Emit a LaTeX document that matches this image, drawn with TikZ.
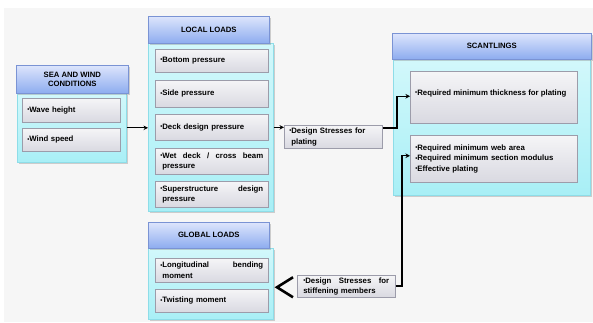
\documentclass[tikz,border=0pt]{standalone}
\usepackage{fontspec}
\setmainfont{Liberation Sans}
\usetikzlibrary{shadows,arrows.meta,calc}
\definecolor{hdrb}{HTML}{7A93D4}
\definecolor{hdrt}{HTML}{DDE5FC}
\definecolor{hdrbot}{HTML}{8DACEF}
\definecolor{cyb}{HTML}{8EDDE8}
\definecolor{cyt}{HTML}{D2F8FB}
\definecolor{cybot}{HTML}{A8EFF6}
\definecolor{itb}{HTML}{9C9CAA}
\definecolor{itt}{HTML}{F5F5F7}
\definecolor{itbot}{HTML}{D9D9E1}
\definecolor{bgc}{HTML}{F6F6F6}
\newcommand{\mybul}{{\fontsize{6}{5}\selectfont\raisebox{0.2ex}{•}}}
\begin{document}
\begin{tikzpicture}[x=1pt,y=-1pt,
  shd/.style={drop shadow={shadow xshift=1.2pt,shadow yshift=-1.2pt,opacity=0.35}},
  hdr/.style={draw=hdrb, top color=hdrt, bottom color=hdrbot, line width=0.6pt,
    font=\bfseries\fontsize{7.7}{9.5}\selectfont, align=center, inner sep=0pt,
    anchor=north west, shd},
  body/.style={draw=cyb, top color=cyt, bottom color=cybot, line width=0.7pt,
    inner sep=0pt, anchor=north west, shd},
  item/.style={draw=itb, top color=itt, bottom color=itbot, line width=0.5pt,
    font=\bfseries\fontsize{7.8}{10.5}\selectfont, align=left, inner xsep=5pt,
    inner ysep=0pt, anchor=north west, shd},
  itemtext/.style={font=\bfseries\fontsize{7.8}{10.5}\selectfont, align=left,
    inner sep=0pt, anchor=west},
  conn/.style={line width=1.2pt, -{Stealth[length=4.5pt,width=4.5pt]}},
]
\useasboundingbox (0,0) rectangle (593,322);
\fill[bgc] (4,8) rectangle (593,322);

% Sea and wind
\node[body, minimum width=109pt, minimum height=69pt] (swb) at (17,93) {};
\node[hdr, minimum width=112pt, minimum height=28pt] (swh) at (16,65) {SEA AND WIND\\CONDITIONS};
\node[item, minimum height=24pt, text width=88pt] (wh) at (22,98) {\mybul Wave height};
\node[item, minimum height=23pt, text width=88pt] (ws) at (22,128) {\mybul Wind speed};

% Local loads
\node[body, minimum width=125pt, minimum height=168pt] (llb) at (148,43) {};
\node[hdr, minimum width=121pt, minimum height=27pt] (llh) at (148,16) {LOCAL LOADS};
\node[item, minimum height=23pt, text width=103pt] (bp) at (155,49) {\mybul Bottom pressure};
\node[item, minimum height=27pt, text width=103pt] (sp) at (155,80) {\mybul Side pressure};
\node[item, minimum height=26pt, text width=103pt] (dp) at (155,114) {\mybul Deck design pressure};
\node[item, minimum height=26pt, text width=103pt] (wd) at (155,148) {\mybul Wet\hfill deck\hfill /\hfill cross\hfill beam\\\phantom{\mybul}pressure};
\node[item, minimum height=26pt, text width=103pt] (ss) at (155,181) {\mybul Superstructure\hfill design\\\phantom{\mybul}pressure};

% Global loads
\node[body, minimum width=125pt, minimum height=71pt] (glb) at (148,248) {};
\node[hdr, minimum width=121pt, minimum height=26pt] (glh) at (148,222) {GLOBAL LOADS};
\node[item, minimum height=24pt, text width=103pt] (lb) at (155,258) {\mybul Longitudinal\hfill bending\\\phantom{\mybul}moment};
\node[item, minimum height=23pt, text width=103pt] (tm) at (155,289) {\mybul Twisting moment};

% Design stresses
\node[item, minimum height=23pt, text width=88pt] (plate) at (284,125) {\mybul Design Stresses for\\\phantom{\mybul}plating};
\node[item, minimum height=22pt, text width=86pt, inner xsep=6pt] (stiff) at (297,275) {\mybul Design\hfill Stresses\hfill for\\stiffening members};

% Scantlings
\node[body, minimum width=197pt, minimum height=136pt] (scb) at (393,59) {};
\node[hdr, minimum width=199pt, minimum height=26pt] (sch) at (392,33) {SCANTLINGS};
\node[item, minimum height=52pt, text width=157pt] (thk) at (410,71) {};
\node[itemtext] (thkt) at ($(thk.west)+(5,-4)$) {\mybul Required minimum thickness for plating};
\node[item, minimum height=47pt, text width=157pt] (req) at (410,135) {\mybul Required minimum web area\\\mybul Required minimum section modulus\\\mybul Effective plating};

% Connectors
\draw[conn] (swb.east) -- (swb.east -| llb.west);
\draw[conn] (llb.east) -- (llb.east -| plate.west);
\coordinate (c1) at (397,128);
\draw[conn] (c1 -| plate.east) -- (c1) |- ($(thk.west)+(0,-1)$);
\coordinate (c2) at (402,286);
\draw[conn] (c2 -| stiff.east) -- (c2) |- ($(req.west)+(0,-3)$);
\draw[line width=2.6pt, line join=miter] ($(stiff.west)+(-4,-9)$) -- ($(stiff.west)+(-20,1)$) -- ($(stiff.west)+(-4,11)$);
\end{tikzpicture}
\end{document}
